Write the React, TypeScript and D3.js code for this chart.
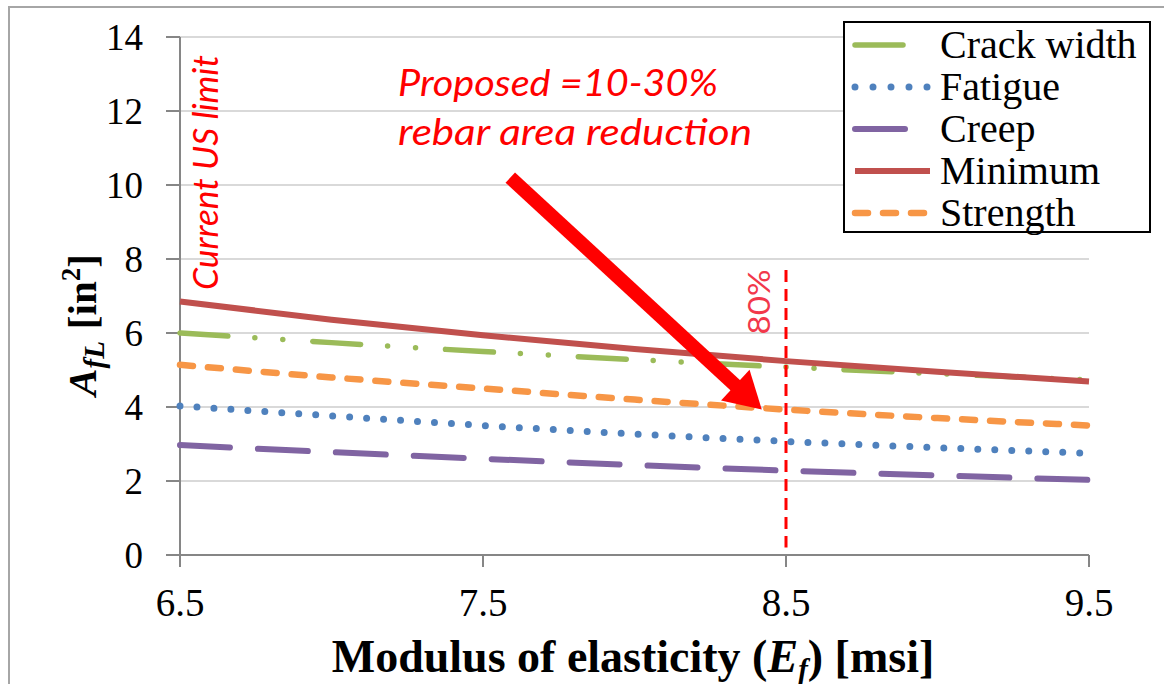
import React from 'react';
import * as d3 from 'd3';

// modulus of elasticity (msi)
const modulus = [6.5, 7.0, 7.5, 8.0, 8.5, 9.0, 9.5];
// required area A_fL (in^2) per limit state
const crackWidth = [6.0, 5.74, 5.5, 5.28, 5.08, 4.9, 4.73];
const fatigue = [4.03, 3.76, 3.5, 3.27, 3.07, 2.9, 2.75];
const creep = [2.97, 2.78, 2.6, 2.43, 2.28, 2.15, 2.03];
const minimum = [6.85, 6.36, 5.94, 5.57, 5.24, 4.95, 4.69];
const strength = [5.14, 4.8, 4.5, 4.2, 3.93, 3.7, 3.5];

const xTicks = [6.5, 7.5, 8.5, 9.5];
const yTicks = [0, 2, 4, 6, 8, 10, 12, 14];

const W = 1164;
const H = 684;
const serif = 'Liberation Serif';
const sans = 'Lato';
const BASE = 36; // regular serif is drawn at 36px and scaled up

const series = [
  { name: 'Crack width', values: crackWidth, color: '#9BBB59', width: 5.5, dash: '48 27 0 28 0 30' },
  { name: 'Fatigue', values: fatigue, color: '#4F81BD', width: 7, dash: '0 17' },
  { name: 'Creep', values: creep, color: '#8064A2', width: 6, dash: '50 28' },
  { name: 'Minimum', values: minimum, color: '#C0504D', width: 6, dash: null },
  { name: 'Strength', values: strength, color: '#F79646', width: 6.5, dash: '13 15' },
];
const drawOrder = ['Creep', 'Fatigue', 'Strength', 'Crack width', 'Minimum'];

const SerifText = ({ x, y, size, anchor, children }: any) => (
  <text transform={`translate(${x},${y}) scale(${size / BASE})`} textAnchor={anchor || 'start'}
    fontFamily={serif} fontSize={BASE} fill="#000">{children}</text>
);

const App = () => {
  const x = d3.scaleLinear().domain([6.5, 9.5]).range([180, 1089]);
  const y = d3.scaleLinear().domain([0, 14]).range([555, 37]);

  const line = d3.line<number>()
    .x((d, i) => x(modulus[i]))
    .y(d => y(d))
    .curve(d3.curveMonotoneX);

  // arrow from the note down to the strength curve at 80%
  const a0 = [x(7.59), y(10.2)];
  const a1 = [x(8.42), y(3.93)];
  const dx = a1[0] - a0[0];
  const dy = a1[1] - a0[1];
  const len = Math.hypot(dx, dy);
  const ux = dx / len;
  const uy = dy / len;
  const headLen = 36;
  const headHalf = 21;
  const bx = a1[0] - ux * headLen;
  const by = a1[1] - uy * headLen;
  const head = `M${a1[0]},${a1[1]} L${bx - uy * headHalf},${by + ux * headHalf} L${bx + uy * headHalf},${by - ux * headHalf} Z`;

  return (
    <svg width={W} height={H} style={{ position: 'absolute', left: 0, top: 0, background: '#fff' }}>
      <rect x={9} y={7} width={1170} height={700} fill="#fff" stroke="#A6A6A6" strokeWidth={2} />

      {/* grid */}
      {yTicks.filter(t => t > 0).map(t => (
        <line key={t} x1={x(6.5)} x2={x(9.5)} y1={y(t)} y2={y(t)} stroke="#D9D9D9" strokeWidth={2} />
      ))}

      {/* axes */}
      <line x1={x(6.5)} x2={x(6.5)} y1={y(14)} y2={y(0)} stroke="#868686" strokeWidth={2} />
      <line x1={x(6.5)} x2={x(9.5)} y1={y(0)} y2={y(0)} stroke="#868686" strokeWidth={2} />
      {yTicks.map(t => (
        <g key={t}>
          <line x1={166} x2={x(6.5)} y1={y(t)} y2={y(t)} stroke="#868686" strokeWidth={2} />
          <SerifText x={143} y={y(t) + 13} size={37} anchor="end">{t}</SerifText>
        </g>
      ))}
      {xTicks.map(t => (
        <g key={t}>
          <line x1={x(t)} x2={x(t)} y1={y(0)} y2={y(0) + 12} stroke="#868686" strokeWidth={2} />
          <SerifText x={x(t)} y={616} size={39} anchor="middle">{t.toFixed(1)}</SerifText>
        </g>
      ))}

      {/* axis titles */}
      <text x={633} y={672} textAnchor="middle" fontFamily={serif} fontSize={46} fontWeight="bold" fill="#000">
        Modulus of elasticity (<tspan fontStyle="italic">E</tspan><tspan fontStyle="italic" fontSize={29} dy={7}>f</tspan><tspan dy={-7}>) [msi]</tspan>
      </text>
      <text transform="translate(96,325) rotate(-90)" textAnchor="middle" fontFamily={serif} fontSize={41} fontWeight="bold" fill="#000">
        <tspan fontStyle="italic">A</tspan><tspan fontStyle="italic" fontSize={29} dy={8}>fL</tspan><tspan dy={-8} dx={12}>[in</tspan><tspan fontSize={27} dy={-16}>2</tspan><tspan dy={16}>]</tspan>
      </text>

      {/* series */}
      {drawOrder.map(n => {
        const s = series.find(d => d.name === n)!;
        return (
          <path key={n} d={line(s.values) || ''} fill="none" stroke={s.color} strokeWidth={s.width}
            strokeDasharray={s.dash || undefined} strokeLinecap={s.dash ? 'round' : 'butt'} />
        );
      })}

      {/* 80% marker */}
      <line x1={x(8.5)} x2={x(8.5)} y1={y(7.7)} y2={y(0.2)} stroke="#FF0000" strokeWidth={3} strokeDasharray="12 7" />
      <text transform={`translate(${x(8.5) - 16},${y(5.96)}) rotate(-90)`} fontFamily={sans} fontSize={30} fill="#F2384B"
        textLength={65} lengthAdjust="spacingAndGlyphs">80%</text>

      {/* legend */}
      <rect x={844} y={22} width={306} height={210} fill="#fff" stroke="#000" strokeWidth={2} />
      {series.map((s, i) => {
        const ly = 45 + i * 42;
        return (
          <g key={s.name}>
            <line x1={855} x2={930} y1={ly} y2={ly} stroke={s.color} strokeWidth={s.width}
              strokeDasharray={s.dash ? (s.name === 'Fatigue' ? '0 18' : s.dash) : undefined}
              strokeLinecap={s.dash ? 'round' : 'butt'} />
            <SerifText x={940} y={ly + 13} size={40}>{s.name}</SerifText>
          </g>
        );
      })}

      {/* annotations */}
      <text transform="translate(218,290) rotate(-90)" fontFamily={sans} fontStyle="italic" fontSize={34}
        fill="#FF0000" textLength={235} lengthAdjust="spacingAndGlyphs">Current US limit</text>
      <text x={398} y={96} fontFamily={sans} fontStyle="italic" fontSize={37} fill="#FF0000"
        textLength={320} lengthAdjust="spacingAndGlyphs">Proposed =10-30%</text>
      <text x={398} y={145} fontFamily={sans} fontStyle="italic" fontSize={37} fill="#FF0000"
        textLength={354} lengthAdjust="spacingAndGlyphs">rebar area reduction</text>

      <line x1={a0[0]} y1={a0[1]} x2={bx + ux * 2} y2={by + uy * 2} stroke="#FF0000" strokeWidth={14} />
      <path d={head} fill="#FF0000" />
    </svg>
  );
};

export default App;
